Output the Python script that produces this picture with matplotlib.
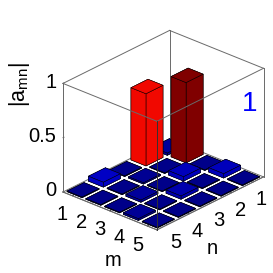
import numpy as np
import matplotlib
matplotlib.use("Agg")
import matplotlib.pyplot as plt
from matplotlib.transforms import Affine2D
from mpl_toolkits.mplot3d import proj3d

plt.rcParams['font.family'] = ['Liberation Sans', 'DejaVu Sans']

m_labels = [1, 2, 3, 4, 5]
n_labels = [1, 2, 3, 4, 5]
z_ticks = [0, 0.5, 1]
z_tick_labels = ['0', '0.5', '1']
# rows: m = 1..5, columns: n = 1..5
amn = np.array([
    [0.020, 0.665, 0.006, 0.045, 0.006],
    [0.740, 0.006, 0.012, 0.006, 0.006],
    [0.006, 0.040, 0.006, 0.020, 0.006],
    [0.040, 0.006, 0.030, 0.006, 0.016],
    [0.006, 0.006, 0.006, 0.006, 0.006],
])
panel_label = '1'

W = 273
fig = plt.figure(figsize=(W/100, W/100), dpi=100, facecolor='white')
ax = fig.add_axes([0, 0, 1, 1], projection='3d', computed_zorder=False)
ax.set_proj_type('ortho')
ax.view_init(elev=26.6, azim=42)
ax.set_box_aspect((160, 127, 122))
lo, hi = 0.5, 5.5
ax.set_xlim(lo, hi); ax.set_ylim(lo, hi); ax.set_zlim(0, 1)
ax.patch.set_alpha(0)

# fit the axes box so the floor sits where the reference has it
def to_px(x, y, z):
    X, Y, _ = proj3d.proj_transform(x, y, z, ax.get_proj())
    return ax.transData.transform((X, Y))
fig.canvas.draw()
pl, pr = to_px(hi, lo, 0), to_px(lo, hi, 0)
scale = (263.5 - 63.0) / (pr[0] - pl[0])
side = scale
x0 = 63.0 - pl[0] * scale
y0 = (W - 192.0) - pl[1] * scale
ax.set_position([x0 / W, y0 / W, side, side])

cmap = plt.get_cmap('jet')
vmax = amn.max()
w = 0.8
order = sorted(((i, j) for i in range(5) for j in range(5)), key=lambda t: t[0] + t[1])
box = '#6a6a6a'
# rear edges, below the bars
for a, b in [((hi, lo), (lo, lo)), ((lo, lo), (lo, hi))]:
    ax.plot([a[0], b[0]], [a[1], b[1]], [1, 1], color=box, lw=0.7, zorder=1)
    ax.plot([a[0], b[0]], [a[1], b[1]], [0, 0], color=box, lw=0.7, zorder=1)
ax.plot([lo, lo], [lo, lo], [0, 1], color=box, lw=0.7, zorder=1)
for k, (i, j) in enumerate(order):
    ax.bar3d(n_labels[j] - w/2, m_labels[i] - w/2, 0, w, w, amn[i, j],
             color=cmap(amn[i, j] / vmax), edgecolor='black', linewidth=0.35,
             shade=False, zorder=2 + k)
# front edges, over the bars
for a, b in [((hi, lo), (hi, hi)), ((hi, hi), (lo, hi))]:
    ax.plot([a[0], b[0]], [a[1], b[1]], [1, 1], color=box, lw=0.7, zorder=50)
    ax.plot([a[0], b[0]], [a[1], b[1]], [0, 0], color=box, lw=0.7, zorder=50)
for cx, cy in [(hi, lo), (lo, hi)]:
    ax.plot([cx, cx], [cy, cy], [0, 1], color=box, lw=0.7, zorder=1)
ax.plot([hi, hi], [hi, hi], [0, 1], color='#333333', lw=0.7, zorder=50)

ax.set_xlim(lo, hi); ax.set_ylim(lo, hi); ax.set_zlim(0, 1)
ax.grid(False)
for axis in (ax.xaxis, ax.yaxis, ax.zaxis):
    axis.set_pane_color((1, 1, 1, 0))
    axis.pane.set_edgecolor((1, 1, 1, 0))
    axis.line.set_color(box)
    axis.line.set_linewidth(0.7)
    axis._axinfo['tick']['color'] = box
    axis._axinfo['tick']['linewidth'] = {True: 0.5, False: 0.4}
    axis._axinfo['tick']['inward_factor'] = 0.0
    axis._axinfo['tick']['outward_factor'] = 0.12

fs = 14.5
ax.set_xticks(n_labels); ax.set_xticklabels([str(v) for v in n_labels], va='center')
ax.set_yticks(m_labels); ax.set_yticklabels([str(v) for v in m_labels], va='center')
ax.set_zticks(z_ticks); ax.set_zticklabels(z_tick_labels, ha='right', va='center')
ax.tick_params(axis='x', labelsize=fs, pad=0)
ax.tick_params(axis='y', labelsize=fs, pad=0)
ax.tick_params(axis='z', labelsize=fs, pad=-9)
ax.set_zlabel('')
ax.zaxis.set_ticks_position('lower')

# nudge the tick labels of an axis by a few pixels
def nudge(axis, dx, dy):
    original = axis.get_major_ticks
    shift = Affine2D().translate(dx, dy)
    def patched(*args, **kwargs):
        ticks = original(*args, **kwargs)
        for t in ticks:
            t.label1.set_transform(ax.transData + shift)
        return ticks
    axis.get_major_ticks = patched
nudge(ax.xaxis, 0, -4)
nudge(ax.yaxis, 0, -4)
nudge(ax.zaxis, -9, 1)

fig.text(113/W, 1 - 260/W, 'm', fontsize=fs, ha='center', va='center')
fig.text(212/W, 1 - 249/W, 'n', fontsize=fs, ha='center', va='center')
fig.text(19/W, 1 - 85/W, r'|a$_{\mathregular{mn}}$|', rotation=90, fontsize=15.5,
         ha='center', va='center', color='black')
fig.text(250/W, 1 - 104/W, panel_label, fontsize=20, color='#0000ff',
         ha='center', va='center')

fig.savefig('out.png', dpi=100)
